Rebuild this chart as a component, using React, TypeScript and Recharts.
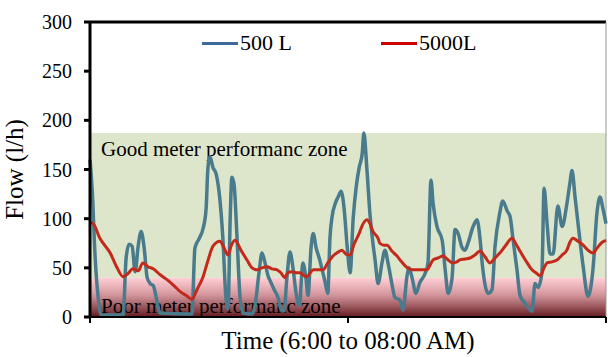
import React from "react";
import {
  Line,
  LineChart,
  ReferenceArea,
  ReferenceLine,
  XAxis,
  YAxis,
} from "recharts";

// minutes after 6:00, flow in l/h
const smallTankTime = [
  0, 0.5, 1.2, 1.9, 2.6, 7.7, 8.4, 9.1, 9.8, 10.5, 11.2, 11.9, 12.6, 13.3, 14.0,
  14.7, 15.4, 16.3, 23.7, 24.4, 25.4, 26.3, 27.0, 27.4, 27.9, 28.6, 29.3, 30.2,
  30.9, 31.6, 32.1, 32.6, 33.0, 33.5, 34.2, 34.9, 35.6, 37.7, 38.4, 39.3, 40.0,
  40.7, 41.4, 42.1, 42.8, 43.7, 44.4, 45.1, 45.8, 46.5, 47.2, 47.9, 48.7, 49.5,
  50.2, 50.7, 51.4, 51.9, 52.6, 53.3, 54.0, 54.7, 55.3, 55.8, 56.3, 57.0, 57.7,
  58.4, 59.1, 59.8, 60.5, 61.2, 61.9, 62.6, 63.3, 63.7, 64.4, 65.1, 65.8, 66.3,
  67.0, 67.9, 68.6, 69.3, 70.2, 70.9, 72.1, 72.8, 73.7, 74.2, 74.9, 75.8, 76.7,
  77.9, 78.6, 79.3, 79.8, 80.7, 81.9, 82.6, 83.3, 84.2, 84.9, 85.6, 86.5, 87.2,
  87.9, 89.1, 90.0, 90.7, 91.2, 92.6, 93.5, 94.2, 95.3, 96.0, 97.0, 97.7, 98.4,
  99.3, 100.0, 101.2, 102.8, 103.5, 104.2, 105.1, 105.6, 106.3, 107.0, 107.7,
  108.8, 109.8, 110.9, 111.6, 112.1, 112.8, 113.5, 114.7, 115.8, 117.0, 117.9,
  118.6, 119.3, 120.0,
];
const smallTankFlow = [
  160, 130, 60, 20, 2, 2, 60, 74, 72, 46, 72, 87, 70, 40, 34,
  32, 20, 4, 3, 70, 80, 90, 110, 150, 163, 152, 146, 120,
  80, 20, 8, 100, 142, 135, 80, 20, 4, 3, 12, 45, 65,
  55, 42, 35, 28, 20, 8, 6, 40, 66, 50, 25, 12, 55,
  40, 22, 70, 85, 70, 60, 48, 35, 24, 80, 102, 115, 122,
  128, 110, 72, 45, 100, 132, 152, 166, 187, 150, 105, 75, 58,
  34, 55, 68, 55, 34, 20, 17, 7, 41, 50, 40, 24, 35,
  44, 55, 139, 115, 92, 78, 48, 24, 40, 89, 85, 71, 68,
  75, 92, 99, 80, 55, 24, 28, 72, 106, 118, 108, 102, 78,
  48, 22, 14, 6, 34, 30, 45, 131, 95, 64, 64,
  113, 92, 115, 136, 149, 122, 95, 51, 21, 50, 106,
  122, 110, 95,
];

const bigTankTime = [
  0, 0.7, 2.3, 4.7, 6.3, 7.7, 8.8, 10.0, 11.2, 12.3, 13.5, 14.7, 16.3, 17.9,
  19.5, 20.9, 22.3, 23.7, 24.9, 26.3, 27.4, 28.6, 30.2, 31.2, 32.1, 32.8, 33.7,
  35.1, 36.5, 37.7, 38.8, 40.0, 41.2, 42.3, 43.5, 44.4, 45.3, 46.0, 47.0, 47.9,
  48.8, 49.8, 50.5, 51.2, 51.9, 53.0, 54.2, 55.3, 56.5, 57.7, 58.6, 59.5, 60.5,
  61.4, 62.6, 63.3, 64.4, 65.1, 65.8, 67.0, 67.4, 68.4, 69.1, 70.2, 71.4, 72.3,
  73.3, 74.2, 75.1, 76.7, 78.4, 79.1, 79.8, 80.9, 82.1, 83.3, 84.4, 85.3, 86.0,
  87.2, 88.4, 89.5, 90.7, 91.9, 93.0, 94.2, 95.3, 96.7, 98.1, 99.1, 100.0,
  101.4, 102.8, 103.7, 104.7, 105.6, 106.3, 107.4, 108.6, 109.8, 110.9, 111.6,
  112.3, 113.5, 114.7, 115.8, 117.0, 117.9, 119.1, 120.0,
];
const bigTankFlow = [
  96, 95, 80, 65, 50, 41, 44, 49, 47, 55, 51, 49, 43, 38,
  32, 26, 22, 18, 28, 41, 57, 72, 77, 70, 63, 72, 78,
  68, 58, 50, 48, 50, 51, 49, 48, 45, 40, 45, 46, 45,
  45, 42, 41, 45, 48, 48, 48, 55, 62, 66, 68, 64, 63,
  74, 85, 93, 99, 95, 87, 80, 75, 73, 73, 67, 62, 57,
  52, 49, 48, 48, 48, 53, 58, 60, 62, 58, 55, 56, 58,
  59, 60, 63, 67, 61, 55, 60, 65, 73, 80, 74, 67,
  57, 48, 45, 42, 50, 55, 56, 58, 63, 68, 76,
  80, 77, 73, 68, 65, 70, 76, 78,
];

const yTicks = [0, 50, 100, 150, 200, 250, 300];
const xTicks = [0, 60, 120];
const goodZone = [40, 187];
const poorZone = [0, 40];

const smallTank = smallTankTime.map((t, i) => ({ t, v: smallTankFlow[i] }));
const bigTank = bigTankTime.map((t, i) => ({ t, v: bigTankFlow[i] }));

const serif = "'Liberation Serif', 'Times New Roman', serif";

const YTick = (props: any) => {
  const { x, y, payload } = props;
  return (
    <text
      x={x}
      y={y}
      dy={7}
      textAnchor="end"
      fontFamily={serif}
      fontSize={20}
      fill="#000"
    >
      {payload.value}
    </text>
  );
};

const zoneLabel = (text: string, where: "top" | "bottom") => (props: any) => {
  const vb = props.viewBox || {};
  const y = where === "top" ? vb.y + 23 : vb.y + vb.height - 4;
  return (
    <text x={vb.x + 11} y={y} fontFamily={serif} fontSize={21} fill="#000">
      {text}
    </text>
  );
};

const LegendBox = () => (
  <div
    style={{
      position: "absolute",
      top: 30,
      left: 0,
      width: 608,
      height: 26,
      fontSize: 22,
      lineHeight: "26px",
    }}
  >
    <div style={{ position: "absolute", left: 202, top: 0, display: "flex", alignItems: "center" }}>
      <span style={{ display: "inline-block", width: 36, height: 3, background: "#3d6a9a" }} />
      <span style={{ marginLeft: 2 }}>500 L</span>
    </div>
    <div style={{ position: "absolute", left: 381, top: 0, display: "flex", alignItems: "center" }}>
      <span style={{ display: "inline-block", width: 36, height: 3, background: "#cc0000" }} />
      <span style={{ marginLeft: 2 }}>5000L</span>
    </div>
  </div>
);

export default function App() {
  return (
    <div
      style={{
        position: "absolute",
        left: 0,
        top: 0,
        width: 608,
        height: 357,
        background: "#fff",
        fontFamily: serif,
      }}
    >
      <LineChart
        width={608}
        height={357}
        margin={{ top: 22, right: 2, bottom: 0, left: 0 }}
      >
        <defs>
          <linearGradient id="poorGrad" x1="0" y1="0" x2="0" y2="1">
            <stop offset="0%" stopColor="#ffc4cc" stopOpacity={0.8} />
            <stop offset="45%" stopColor="#c98088" stopOpacity={0.85} />
            <stop offset="100%" stopColor="#5a0f14" stopOpacity={0.95} />
          </linearGradient>
        </defs>
        <XAxis
          dataKey="t"
          type="number"
          domain={[0, 120]}
          ticks={xTicks}
          tickFormatter={() => ""}
          stroke="#000"
          strokeWidth={2}
          tickSize={6}
          height={40}
          allowDuplicatedCategory={false}
          label={{
            value: "Time (6:00 to 08:00 AM)",
            position: "insideBottom",
            offset: 8,
            style: { fontFamily: serif, fontSize: 25, fill: "#000" },
          }}
        />
        <YAxis
          type="number"
          domain={[0, 300]}
          ticks={yTicks}
          width={90}
          stroke="#000"
          strokeWidth={3}
          tickSize={6}
          tickMargin={12}
          tick={<YTick />}
          label={{
            value: "Flow (l/h)",
            angle: -90,
            position: "insideLeft",
            offset: 14,
            style: { fontFamily: serif, fontSize: 25, fill: "#000", textAnchor: "middle" },
          }}
        />
        <ReferenceArea
          y1={goodZone[0]}
          y2={goodZone[1]}
          fill="#dde6cb"
          fillOpacity={1}
          stroke="none"
          label={zoneLabel("Good meter performanc zone", "top")}
        />
        <ReferenceLine y={300} stroke="#000" strokeWidth={3} />
        <ReferenceLine x={120} stroke="#999" strokeWidth={1} />
        <Line
          data={smallTank}
          dataKey="v"
          type="monotone"
          stroke="#497b8d"
          strokeWidth={3.5}
          dot={false}
          activeDot={false}
          isAnimationActive={false}
        />
        <ReferenceArea
          y1={poorZone[0]}
          y2={poorZone[1]}
          fill="url(#poorGrad)"
          fillOpacity={1}
          stroke="none"
          label={zoneLabel("Poor meter performanc zone", "bottom")}
        />
        <Line
          data={bigTank}
          dataKey="v"
          type="monotone"
          stroke="#c42a1c"
          strokeWidth={3}
          dot={false}
          activeDot={false}
          isAnimationActive={false}
        />
      </LineChart>
      <LegendBox />
    </div>
  );
}
